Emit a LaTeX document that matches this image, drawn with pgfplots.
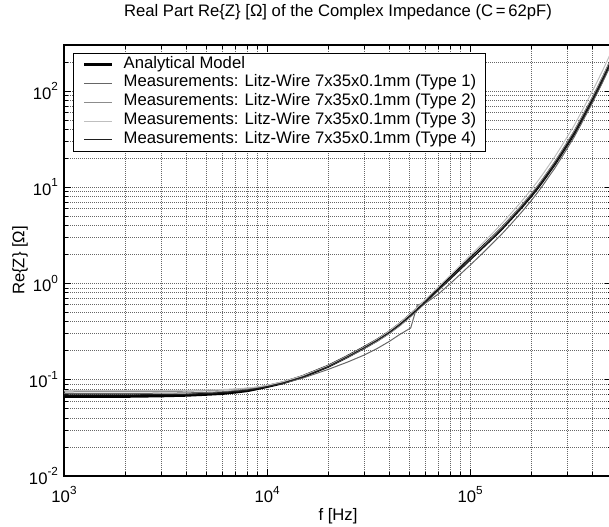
\documentclass[border=0pt]{standalone}
\usepackage{fontspec}
\setmainfont{Liberation Sans}
\usepackage{pgfplots}
\pgfplotsset{compat=1.18}
\newcommand{\sups}[1]{\raisebox{0.5em}{\fontsize{8.8}{9}\selectfont #1}}

\pgfplotstableread{
f A
1000 0.067
2000 0.0672
3000 0.068
4000 0.069
5000 0.0705
6000 0.072
7000 0.0745
8000 0.077
9000 0.081
10000 0.085
12000 0.093
15000 0.108
20000 0.138
25000 0.175
30000 0.215
35000 0.259
40000 0.312
45000 0.377
50000 0.456
55000 0.546
60000 0.647
70000 0.88
80000 1.15
90000 1.455
100000 1.8
115000 2.38
130000 3.04
145000 3.83
160000 4.8
180000 6.3
200000 8.2
215000 9.9
230000 12.0
245000 14.5
260000 17.3
280000 22
300000 27.7
325000 36.2
350000 48.2
375000 63
400000 81.2
425000 104
450000 133
475000 169
500000 214
}\analytic

\pgfplotstableread{
f A
1000 0.072
2000 0.072
3000 0.0725
4000 0.073
5000 0.074
6000 0.075
7000 0.077
8000 0.0795
9000 0.082
10000 0.0855
12000 0.092
15000 0.104
20000 0.128
25000 0.153
30000 0.18
35000 0.212
40000 0.25
45000 0.295
51000 0.345
55000 0.6
60000 0.62
70000 0.78
80000 1.0
90000 1.26
100000 1.55
115000 2.05
130000 2.65
145000 3.35
160000 4.2
180000 5.55
200000 7.25
215000 8.8
230000 10.7
245000 13
260000 15.5
280000 19.8
300000 25
325000 33
350000 44
375000 58
400000 75
425000 97
450000 124
475000 158
500000 200
}\typeone

\pgfplotstableread{
f A
1000 0.075
2000 0.0752
3000 0.0755
4000 0.076
5000 0.077
6000 0.078
7000 0.0795
8000 0.0815
9000 0.0838
10000 0.087
12000 0.095
15000 0.109
20000 0.137
25000 0.172
30000 0.21
35000 0.252
40000 0.302
45000 0.362
50000 0.436
55000 0.525
60000 0.625
70000 0.86
80000 1.13
90000 1.44
100000 1.79
115000 2.4
130000 3.1
145000 3.93
160000 4.95
180000 6.55
200000 8.55
215000 10.35
230000 12.6
245000 15.2
260000 18.2
280000 23.2
300000 29.2
325000 38.3
350000 51
375000 67
400000 86.5
425000 111
450000 142
475000 181
500000 230
}\typetwo

\pgfplotstableread{
f A
1000 0.077
2000 0.077
3000 0.0772
4000 0.0776
5000 0.0782
6000 0.079
7000 0.0803
8000 0.082
9000 0.0843
10000 0.0875
12000 0.0955
15000 0.11
20000 0.14
25000 0.177
30000 0.218
35000 0.264
40000 0.32
45000 0.388
50000 0.47
55000 0.565
60000 0.672
70000 0.925
80000 1.22
90000 1.56
100000 1.95
115000 2.6
130000 3.38
145000 4.3
160000 5.42
180000 7.2
200000 9.45
215000 11.5
230000 14
245000 17
260000 20.4
280000 26
300000 33
325000 43.5
350000 58
375000 76.5
400000 99
425000 128
450000 164
475000 209
500000 265
}\typethree

\pgfplotstableread{
f A
1000 0.0695
2000 0.0697
3000 0.07
4000 0.0705
5000 0.0717
6000 0.0732
7000 0.0752
8000 0.0778
9000 0.0812
10000 0.0848
12000 0.0925
15000 0.107
20000 0.137
25000 0.174
30000 0.214
35000 0.258
40000 0.31
45000 0.373
50000 0.448
55000 0.535
60000 0.635
70000 0.865
80000 1.13
90000 1.43
100000 1.77
115000 2.34
130000 3.0
145000 3.78
160000 4.74
180000 6.22
200000 8.1
215000 9.78
230000 11.85
245000 14.3
260000 17.1
280000 21.7
300000 27.3
325000 35.7
350000 47.5
375000 62
400000 80
425000 102.5
450000 131
475000 166
500000 210
}\typefour

\definecolor{tOne}{gray}{0.40}
\definecolor{tTwo}{gray}{0.55}
\definecolor{tThree}{gray}{0.75}
\definecolor{tFour}{gray}{0.12}

\begin{document}
\begin{tikzpicture}[font=\fontsize{12.5}{15}\selectfont]
\useasboundingbox (0,0) rectangle (456.75pt,395.25pt);
\begin{axis}[
  at={(48pt,38.25pt)}, anchor=south west,
  scale only axis, width=411pt, height=323.25pt,
  xmode=log, ymode=log,
  xmin=1e3, xmax=5e5, ymin=1e-2, ymax=300,
  xtick={1e3,1e4,1e5},
  xticklabels={10\sups{3},10\sups{4},10\sups{5}},
  ytick={1e-2,1e-1,1,10,100},
  yticklabels={10\sups{-2},10\sups{-1},10\sups{0},10\sups{1},10\sups{2}},
  minor xtick={2000,3000,4000,5000,6000,7000,8000,9000,20000,30000,40000,50000,60000,70000,80000,90000,200000,300000,400000},
  minor ytick={0.02,0.03,0.04,0.05,0.06,0.07,0.08,0.09,0.2,0.3,0.4,0.5,0.6,0.7,0.8,0.9,2,3,4,5,6,7,8,9,20,30,40,50,60,70,80,90,200},
  grid=both,
  major grid style={black!60, dash pattern=on 0.6pt off 0.9pt, line width=0.5pt},
  minor grid style={black!60, dash pattern=on 0.6pt off 0.9pt, line width=0.5pt},
  tick align=inside, major tick length=5pt, minor tick length=3pt,
  tick style={black, line width=0.5pt},
  axis line style={black, line width=0.8pt},
  xlabel={f [Hz]},
  ylabel={Re\{Z\} [Ω]},
  xlabel style={at={(axis description cs:0.5,0)}, anchor=base, yshift=-33pt},
  ylabel style={at={(axis description cs:-0.0803,0.5)}, anchor=center},
  title={Real Part Re\{Z\} [Ω] of the Complex Impedance (C\,=\,62pF)},
  title style={at={(axis description cs:0.5,1)}, anchor=base, yshift=15pt},
  xticklabel style={anchor=base, yshift=-20pt},
  yticklabel style={anchor=east, xshift=-1pt},
  legend cell align=left,
  legend image code/.code={\draw[#1] (0pt,0pt) -- (21pt,0pt);},
  legend style={at={(axis description cs:0.0164,0.9814)}, anchor=north west,
    draw=black, line width=0.6pt, fill=white,
    inner xsep=7pt, inner ysep=1.5pt, row sep=0pt, column sep=7.5pt,
    nodes={inner sep=0pt, text height=9.6pt, text depth=4.46pt}},
]
\addplot[black, line width=2.2pt] table[x=f,y=A] {\analytic};
\addlegendentry{Analytical Model}
\addplot[tOne, line width=0.75pt] table[x=f,y=A] {\typeone};
\addlegendentry{Measurements: Litz-Wire 7x35x0.1mm (Type 1)}
\addplot[tTwo, line width=0.75pt] table[x=f,y=A] {\typetwo};
\addlegendentry{Measurements: Litz-Wire 7x35x0.1mm (Type 2)}
\addplot[tThree, line width=0.75pt] table[x=f,y=A] {\typethree};
\addlegendentry{Measurements: Litz-Wire 7x35x0.1mm (Type 3)}
\addplot[tFour, line width=0.75pt] table[x=f,y=A] {\typefour};
\addlegendentry{Measurements: Litz-Wire 7x35x0.1mm (Type 4)}
\end{axis}
\end{tikzpicture}
\end{document}
